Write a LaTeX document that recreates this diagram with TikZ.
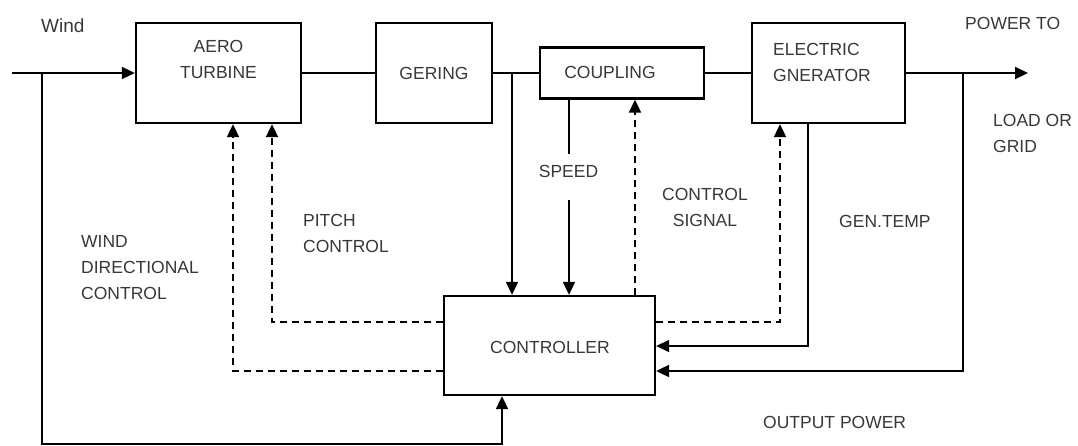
\documentclass[tikz,border=0pt]{standalone}
\usepackage{fontspec}
\setmainfont{Liberation Sans}
\usetikzlibrary{arrows.meta}
\begin{document}
\begin{tikzpicture}[x=1pt,y=-1pt,
  box/.style={draw, line width=2.3pt, inner sep=0pt},
  txt/.style={text=black!78, font=\fontsize{17.5}{26}\selectfont, inner sep=0pt},
  ln/.style={line width=1.9pt},
  thin/.style={line width=1.4pt},
  arr/.style={-{Triangle[length=13pt,width=12pt]}},
  dsh/.style={line width=1.9pt, dash pattern=on 7pt off 5pt}]
\useasboundingbox[fill=white] (0,0) rectangle (1078,445);

% boxes
\node[box, minimum width=165pt, minimum height=100pt] (aero) at (218.5,73) {};
\node[box, minimum width=116pt, minimum height=100pt, txt, text=black!78, font=\fontsize{17.5}{26}\selectfont] (gering) at (434,73) {GERING};
\node[box, minimum width=164pt, minimum height=51pt] (coupling) at (622,73) {};
\node[box, minimum width=153pt, minimum height=100pt] (gen) at (828.5,73) {};
\node[box, minimum width=211pt, minimum height=99pt] (ctrl) at (549.5,345.5) {};

% texts
\node[txt, anchor=west, font=\fontsize{19}{26}\selectfont] (windt) at (41,26) {Wind};
\node[txt, align=center] (aerot) at (218.5,59.5) {AERO\\TURBINE};
\node[txt] (couplingt) at (610,72) {COUPLING};
\node[txt, align=left, anchor=west] (gent) at (773,62.5) {ELECTRIC\\GNERATOR};
\node[txt, anchor=west] (powert) at (965,23) {POWER TO};
\node[txt, align=left, anchor=west] (loadt) at (993,133.5) {LOAD OR\\GRID};
\node[txt] (speedt) at (568.5,171) {SPEED};
\node[txt, align=center] (sigt) at (705,207.5) {CONTROL\\SIGNAL};
\node[txt, anchor=west] (tempt) at (839,221) {GEN.TEMP};
\node[txt, align=left, anchor=west] (pitcht) at (303,233.5) {PITCH\\CONTROL};
\node[txt, align=left, anchor=west] (wdct) at (81,268) {WIND\\DIRECTIONAL\\CONTROL};
\node[txt] (ctrlt) at (550,347) {CONTROLLER};
\node[txt, anchor=west] (outt) at (763,422) {OUTPUT POWER};

% coordinates
\coordinate (in) at (12,73);
\coordinate (wl) at (42,73);
\coordinate (bl) at (42,444);
\coordinate (bx) at (502,444);
\coordinate (j1) at (512,73);
\coordinate (sp1) at (569,154);
\coordinate (sp2) at (569,200);
\coordinate (cs) at (635,200);
\coordinate (out) at (1028,73);
\coordinate (j2) at (963,73);
\coordinate (op) at (963,371);
\coordinate (gt) at (808,346);
\coordinate (gc) at (780,322);
\coordinate (pc) at (272,322);
\coordinate (yc) at (233,371);

% main chain
\draw[ln, arr] (in) -- (aero.west);
\draw[ln] (aero.east) -- (gering.west);
\draw[ln] (gering.east) -- (coupling.west);
\draw[ln] (coupling.east) -- (gen.west);
\draw[ln, arr] (gen.east) -- (out);

% wind directional loop
\draw[ln, arr] (wl) -- (bl) -- (bx) -- (bx |- ctrl.south);

% shaft to controller
\draw[ln, arr] (j1) -- (j1 |- ctrl.north);
% speed
\draw[ln] (sp1 |- coupling.south) -- (sp1);
\draw[ln, arr] (sp2) -- (sp2 |- ctrl.north);
% control signal to coupling
\draw[dsh, arr] (cs |- ctrl.north) -- (cs |- coupling.south);
% control to generator
\draw[dsh, arr] (gc -| ctrl.east) -- (gc) -- (gc |- gen.south);
% gen temp
\draw[thin, arr] (gt |- gen.south) -- (gt) -- (gt -| ctrl.east);
% output power
\draw[ln, arr] (j2) -- (op) -- (op -| ctrl.east);
% pitch control
\draw[dsh, arr] (pc -| ctrl.west) -- (pc) -- (pc |- aero.south);
% yaw control
\draw[dsh, arr] (yc -| ctrl.west) -- (yc) -- (yc |- aero.south);
\end{tikzpicture}
\end{document}
